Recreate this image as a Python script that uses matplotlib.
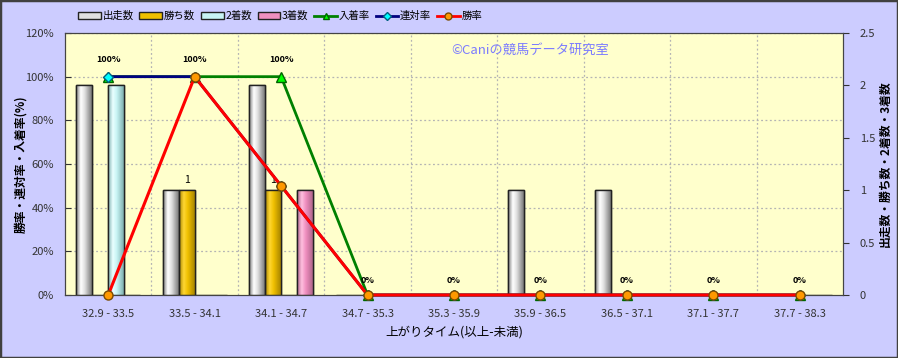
import numpy as np
import matplotlib
matplotlib.use('Agg')
import matplotlib.pyplot as plt
from matplotlib.colors import LinearSegmentedColormap
from matplotlib.patches import Rectangle, Patch
from matplotlib.lines import Line2D

plt.rcParams['font.family'] = ['Noto Sans CJK JP', 'DejaVu Sans']

categories = ['32.9 - 33.5', '33.5 - 34.1', '34.1 - 34.7', '34.7 - 35.3', '35.3 - 35.9',
              '35.9 - 36.5', '36.5 - 37.1', '37.1 - 37.7', '37.7 - 38.3']
runs = [2, 1, 2, 0, 0, 1, 1, 0, 0]
wins = [0, 1, 1, 0, 0, 0, 0, 0, 0]
seconds = [2, 0, 0, 0, 0, 0, 0, 0, 0]
thirds = [0, 0, 1, 0, 0, 0, 0, 0, 0]
place_rate = [100, 100, 100, 0, 0, 0, 0, 0, 0]
quinella_rate = [100, 100, 50, 0, 0, 0, 0, 0, 0]
win_rate = [0, 100, 50, 0, 0, 0, 0, 0, 0]

bar_series = [
    ('出走数', runs, '#ffffff', '#7a7a7a', '#e0e0e0'),
    ('勝ち数', wins, '#ffd633', '#a88500', '#f0c000'),
    ('2着数', seconds, '#eaffff', '#7fb0b0', '#c8f4f4'),
    ('3着数', thirds, '#ffbfdf', '#b0668c', '#f090c0'),
]

fig = plt.figure(figsize=(8.98, 3.58), dpi=100)
fig.patch.set_facecolor('#ccccff')
fig.add_artist(Rectangle((0, 0), 1, 1, transform=fig.transFigure, fill=False,
                         edgecolor='#404040', linewidth=2.5))

ax = fig.add_axes([65 / 898, 1 - 295 / 358, (843 - 65) / 898, (295 - 33) / 358])
ax.set_facecolor('#ffffcc')
ax2 = ax.twinx()

x = np.arange(len(categories))
w = 0.185
offsets = [-1.5, -0.5, 0.5, 1.5]
t = np.linspace(0, 1, 64).reshape(1, -1)

for (name, vals, light, dark, mid), off in zip(bar_series, offsets):
    bars = ax.bar(x + off * w, vals, width=w, color=mid, edgecolor='#222222',
                  linewidth=1, zorder=3)
    cmap = LinearSegmentedColormap.from_list(name, [(0, dark), (0.3, light), (0.55, mid), (1, dark)])
    for b in bars:
        if b.get_height() <= 0:
            continue
        im = ax.imshow(t, cmap=cmap, aspect='auto', zorder=3.5,
                       extent=[b.get_x(), b.get_x() + b.get_width(), 0, b.get_height()])
        im.set_clip_path(b)
        edge = Rectangle((b.get_x(), 0), b.get_width(), b.get_height(), fill=False,
                         edgecolor='#222222', linewidth=1, zorder=4)
        ax.add_patch(edge)
    if name == '勝ち数':
        for xi, v in zip(x + off * w, vals):
            if v > 0:
                ax.annotate(str(v), (xi, v), xytext=(0, 7), textcoords='offset points',
                            ha='center', va='center', fontsize=7.5, zorder=5)

ax.set_xlim(-0.5, len(categories) - 0.5)
ax.set_ylim(0, 2.5)
ax.set_yticks([0, 0.5, 1, 1.5, 2, 2.5])
ax.set_yticklabels(['0', '0.5', '1', '1.5', '2', '2.5'])
ax.yaxis.tick_right()
ax.yaxis.set_label_position('right')
ax.set_ylabel('出走数・勝ち数・2着数・3着数', fontsize=8.5, fontweight='bold')
ax.yaxis.set_label_coords(1.046, 0.5)

ax2.plot(x, place_rate, color='#008000', linewidth=2, marker='^', markersize=7,
         markerfacecolor='#00ff00', markeredgecolor='#006400', zorder=3, clip_on=False)
ax2.plot(x, quinella_rate, color='#000080', linewidth=2, marker='D', markersize=5,
         markerfacecolor='#00ffff', markeredgecolor='#006080', zorder=4, clip_on=False)
ax2.plot(x, win_rate, color='#ff0000', linewidth=2.2, marker='o', markersize=6.5,
         markerfacecolor='#ff9900', markeredgecolor='#7a4a00', zorder=5, clip_on=False)

for xi, v in zip(x, place_rate):
    ax2.annotate(f'{v}%', (xi, v), xytext=(0, 12 if v > 0 else 10.5), textcoords='offset points',
                 ha='center', va='center', fontsize=6.5, fontweight='bold', zorder=6)

ax2.set_ylim(0, 120)
ax2.set_yticks(range(0, 121, 20))
ax2.set_yticklabels([f'{v}%' for v in range(0, 121, 20)])
ax2.yaxis.tick_left()
ax2.yaxis.set_label_position('left')
ax2.set_ylabel('勝率・連対率・入着率(%)', fontsize=8.5, fontweight='bold')
ax2.yaxis.set_label_coords(-0.049, 0.5)

ax2.set_xticks(x)
ax.set_xticks(x)
ax.set_xticklabels(categories)
ax.set_xlabel('上がりタイム(以上-未満)', fontsize=9, labelpad=5)

for a in (ax, ax2):
    a.tick_params(axis='both', labelsize=8, colors='#333333', length=4)
    a.tick_params(axis='x', length=0, pad=10)
    for s in a.spines.values():
        s.set_color('#444444')
ax2.tick_params(axis='y', direction='in', pad=8)
ax.tick_params(axis='y', direction='out', pad=8)

for v in range(20, 121, 20):
    ax.axhline(v / 120 * 2.5, color='#b4b4b4', linestyle=(0, (1.5, 2)), linewidth=0.9, zorder=1)
for b in np.arange(0.5, len(categories) - 0.5, 1):
    ax.axvline(b, color='#b4b4b4', linestyle=(0, (1.5, 2)), linewidth=0.9, zorder=1)

ax.text(0.598, 0.935, '©Caniの競馬データ研究室', transform=ax.transAxes, fontsize=9.5,
        color='#7b7bff', ha='center', va='center', zorder=2)

handles = [Patch(facecolor=s[4], edgecolor='#222222', linewidth=1) for s in bar_series]
handles += [
    Line2D([], [], color='#008000', linewidth=2, marker='^', markersize=5,
           markerfacecolor='#00ff00', markeredgecolor='#006400'),
    Line2D([], [], color='#000080', linewidth=2, marker='D', markersize=4,
           markerfacecolor='#00ffff', markeredgecolor='#006080'),
    Line2D([], [], color='#ff0000', linewidth=2, marker='o', markersize=5,
           markerfacecolor='#ff9900', markeredgecolor='#7a4a00'),
]
labels = [s[0] for s in bar_series] + ['入着率', '連対率', '勝率']
fig.legend(handles, labels, loc='center left', bbox_to_anchor=(78 / 898, 0.955), ncol=7,
           frameon=False, fontsize=7.5, handlelength=2.2, handleheight=0.55,
           columnspacing=0.55, handletextpad=0.15, borderaxespad=0, borderpad=0)

fig.savefig('out.png', dpi=100, facecolor=fig.get_facecolor())
